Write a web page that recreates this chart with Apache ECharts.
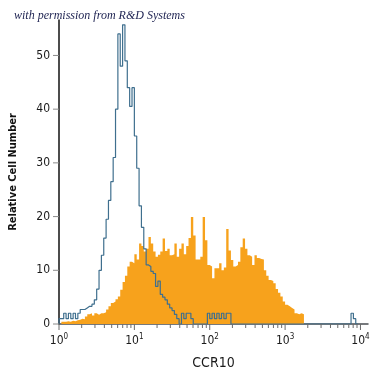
<!DOCTYPE html>
<html>
<head>
<meta charset="utf-8">
<script src="https://cdn.jsdelivr.net/npm/echarts@6/dist/echarts.min.js"></script>
<style>
  html, body { margin: 0; padding: 0; background: #fff; }
  #chart { width: 375px; height: 375px; }
</style>
</head>
<body>
<div id="chart"></div>
<script>
// histogram bins: log10(CCR10) from binStart, each binWidth wide
var binStart = 0;
var binWidth = 1 / 32;

// stained sample (orange, filled)
var ccr10Values = [
    0, 0.4, 0.4, 0.5, 0.4, 0.6, 0.5, 0.7, 0.8, 1.0,
    0.9, 1.4, 1.8, 2.0, 1.6, 2.0, 1.7, 2.0, 2.0, 2.2,
    2.7, 3.3, 3.9, 4.2, 4.6, 5.1, 6.4, 7.8, 9.0, 10.7,
    11.6, 11.3, 13.0, 12.0, 15.0, 14.5, 13.5, 14.0, 16.2, 15.0,
    13.5, 12.5, 12.9, 13.5, 15.9, 13.6, 14.0, 12.8, 13.0, 15.0,
    12.5, 14.0, 15.0, 13.0, 14.5, 16.0, 19.9, 16.5, 12.0, 12.0,
    12.5, 19.9, 15.6, 11.0, 10.7, 8.5, 10.4, 10.4, 11.3, 10.0,
    10.5, 17.7, 13.7, 11.9, 10.7, 11.0, 11.6, 14.3, 15.9, 14.0,
    12.8, 12.5, 11.0, 12.8, 12.3, 12.1, 12.0, 10.0, 9.0, 8.2,
    8.0, 7.6, 6.5, 5.8, 5.1, 4.2, 3.6, 3.3, 3.0, 2.7,
    2.0, 1.8, 2.0, 1.8
];

// isotype control (blue outline)
var isotypeValues = [
    1.0, 1.0, 2.0, 1.0, 2.0, 1.0, 2.0, 1.0, 2.0, 2.7,
    2.7, 3.0, 3.3, 3.3, 3.7, 4.5, 6.5, 10.0, 12.8, 16.0,
    19.5, 23.0, 26.5, 31.0, 40.0, 54.0, 48.0, 55.7, 49.0, 44.0,
    40.5, 44.0, 35.0, 29.0, 22.0, 18.0, 14.0, 11.0, 10.7, 9.8,
    9.4, 7.0, 8.0, 5.5, 5.0, 4.5, 3.7, 3.0, 2.5, 1.8,
    1.0, 0, 2.0, 1.0, 2.0, 2.0, 1.0, 0, 0, 0,
    0, 0, 0, 2.0, 1.0, 2.0, 1.0, 2.0, 1.0, 2.0,
    1.0, 2.0, 2.0, 0, 0, 0, 0, 0, 0, 0,
    0, 0, 0, 0, 0, 0, 0, 0, 0, 0,
    0, 0, 0, 0, 0, 0, 0, 0, 0, 0,
    0, 0, 0, 0, 0, 0, 0, 0, 0, 0,
    0, 0, 0, 0, 0, 0, 0, 0, 0, 0,
    0, 0, 0, 0, 2.0, 1.0, 0
];

// axis ticks
var xDecades = [0, 1, 2, 3, 4];
var minorMultipliers = [2, 3, 4, 5, 6, 7, 8, 9];
var yTickValues = [0, 10, 20, 30, 40, 50];

var narrow = "'Liberation Sans Narrow', 'DejaVu Sans Condensed', sans-serif";

function stepData(vals) {
    var d = [[binStart, 0]];
    for (var i = 0; i < vals.length; i++) {
        d.push([binStart + i * binWidth, vals[i]]);
    }
    d.push([binStart + vals.length * binWidth, 0]);
    return d;
}

var tickData = [];
xDecades.forEach(function (d) {
    tickData.push([d, 6, 0]);
    if (d < 4) {
        minorMultipliers.forEach(function (k) {
            tickData.push([d + Math.log10(k), 4, 0]);
        });
    }
});
yTickValues.forEach(function (v) {
    tickData.push([v, 6, 1]);
});

var chart = echarts.init(document.getElementById('chart'));

var option = {
    animation: false,
    title: {
        text: 'with permission from R&D Systems',
        left: 9,
        top: 5,
        textStyle: {
            fontFamily: "'Liberation Serif', serif",
            fontStyle: 'italic',
            fontWeight: 'normal',
            fontSize: 12,
            color: '#1c2150'
        }
    },
    grid: {
        left: 56,
        right: 7,
        top: 20,
        bottom: 47
    },
    xAxis: {
        type: 'value',
        min: 0,
        max: 4.1,
        interval: 1,
        name: 'CCR10',
        nameLocation: 'middle',
        nameGap: 32,
        nameTextStyle: {
            fontFamily: narrow,
            fontSize: 14,
            color: '#1a1a1a'
        },
        splitLine: { show: false },
        axisTick: { show: false },
        axisLine: {
            lineStyle: { color: '#4a4e52', width: 1.5 }
        },
        axisLabel: {
            margin: 9,
            showMaxLabel: false,
            formatter: function (v) {
                return Number.isInteger(v) ? '{b|10}{s|' + v + '}' : '';
            },
            rich: {
                b: { fontFamily: narrow, fontSize: 12, color: '#1a1a1a' },
                s: { fontFamily: narrow, fontSize: 8, color: '#1a1a1a', verticalAlign: 'top', padding: [0, 0, 7, 0] }
            }
        }
    },
    yAxis: {
        type: 'value',
        min: 0,
        max: 56.6,
        interval: 10,
        name: 'Relative Cell Number',
        nameLocation: 'middle',
        nameGap: 40,
        nameTextStyle: {
            fontFamily: narrow,
            fontWeight: 'bold',
            fontSize: 11,
            color: '#111'
        },
        splitLine: { show: false },
        axisTick: { show: false },
        axisLine: {
            lineStyle: { color: '#111', width: 1.5 }
        },
        axisLabel: {
            margin: 9,
            showMaxLabel: false,
            fontFamily: narrow,
            fontSize: 12,
            color: '#1a1a1a',
            formatter: function (v) {
                return v % 10 === 0 ? String(v) : '';
            }
        }
    },
    series: [
        {
            name: 'CCR10',
            type: 'line',
            step: 'end',
            symbol: 'none',
            data: stepData(ccr10Values),
            lineStyle: { width: 0 },
            areaStyle: { color: '#f7a21c', opacity: 1 },
            z: 2
        },
        {
            name: 'Isotype',
            type: 'line',
            step: 'end',
            symbol: 'none',
            data: stepData(isotypeValues),
            lineStyle: { color: '#3f6f8e', width: 1.2 },
            z: 3
        },
        {
            name: 'ticks',
            type: 'custom',
            clip: false,
            silent: true,
            data: tickData,
            z: 4,
            renderItem: function (params, api) {
                var v = api.value(0);
                var len = api.value(1);
                var p;
                if (api.value(2) === 0) {
                    p = api.coord([v, 0]);
                    return {
                        type: 'line',
                        shape: { x1: p[0], y1: p[1], x2: p[0], y2: p[1] + len },
                        style: { stroke: '#6a6a6a', lineWidth: 1 }
                    };
                }
                p = api.coord([0, v]);
                return {
                    type: 'line',
                    shape: { x1: p[0] - len, y1: p[1], x2: p[0], y2: p[1] },
                    style: { stroke: '#8a8a8a', lineWidth: 1 }
                };
            }
        }
    ]
};

chart.setOption(option);
</script>
</body>
</html>
